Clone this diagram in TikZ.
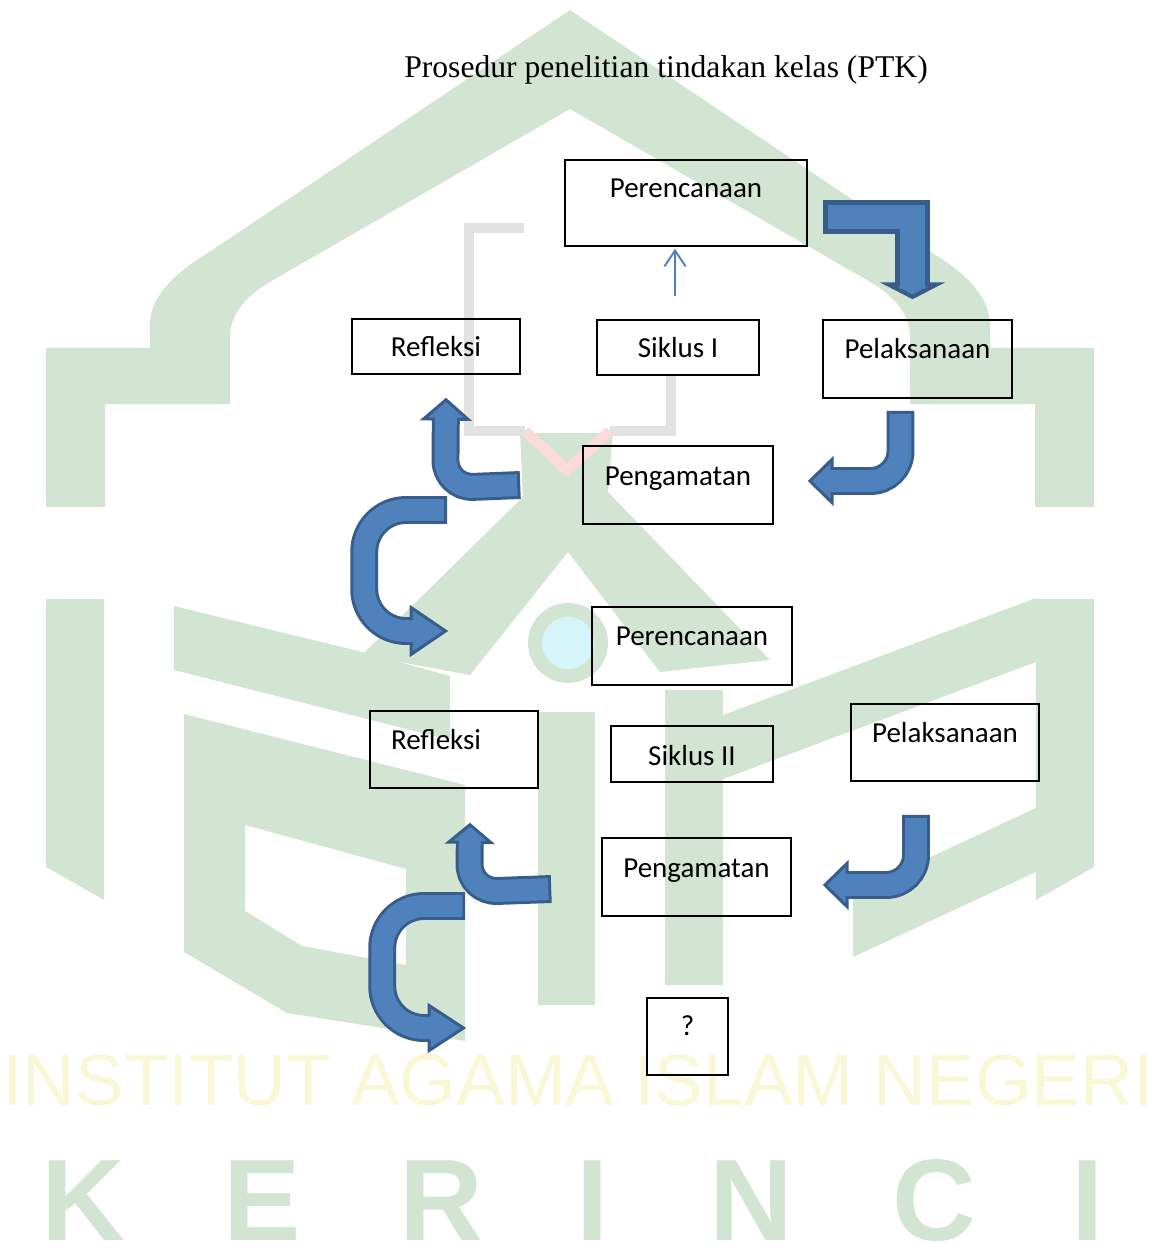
\documentclass[tikz,border=0pt]{standalone}
\usepackage{fontspec}
\setmainfont{Liberation Serif}
\newfontfamily\kalibri{Carlito}
\newfontfamily\arial{Liberation Sans}
\usepackage{tikz}
\usetikzlibrary{arrows.meta,positioning,calc}
\usepackage{xcolor}
\definecolor{isipanah}{HTML}{4F81BD}
\definecolor{garispanah}{HTML}{385D8A}
\definecolor{hijaulogo}{RGB}{210,229,210}
\definecolor{kuninglogo}{RGB}{248,248,214}
\definecolor{abulogo}{RGB}{226,226,226}
\definecolor{merahlogo}{RGB}{251,218,218}
\definecolor{birulogo}{RGB}{214,245,250}
\tikzset{
kotak/.style n args={3}{draw=black, line width=0.9pt, rectangle, inner sep=0pt, align=center,
  font={\kalibri\fontsize{16.5}{20}\selectfont}, minimum width=#1, text height=#2, text depth=#3},% kotak tahap
judul/.style = {anchor=base, font={\fontsize{18}{22}\selectfont}},% judul gambar
panah/.style n args={4}{draw=garispanah, line width=15.9pt, rounded corners=#3,
  -{Triangle[length=#1, width=#2, fill=isipanah, line width=1.7pt]},
  postaction={draw=isipanah, line width=12.5pt, -, shorten <=1.7pt, shorten >=#4}},% panah blok lengkung
panah_siku/.style = {draw=garispanah, line width=19.8pt, line join=miter,
  -{Triangle[length=9.6pt, width=36.9pt, fill=isipanah, line width=2.8pt]},
  postaction={draw=isipanah, line width=14.2pt, -, shorten <=2.8pt, shorten >=6pt}},% panah blok siku
panah_kecil/.style = {draw=isipanah, line width=1.1pt, -{Straight Barb[length=9pt, width=12pt, line width=1.1pt]}},% panah tipis
tulisan/.style = {anchor=base, inner sep=0pt, kuninglogo, font={\arial\fontsize{41.5}{44}\selectfont}},% tulisan latar
huruf/.style = {anchor=base, inner sep=0pt, hijaulogo, font={\arial\bfseries\fontsize{66}{70}\selectfont}}% huruf latar
}
\begin{document}
\begin{tikzpicture}[x=0.02cm, y=-0.02cm]
\useasboundingbox (0,0) rectangle (1158,1256);
% logo latar
\fill[hijaulogo] (46,507) -- (46,348) -- (150,348) -- (150,322) .. controls (152,295) and (175,272) .. (214,249)
  -- (570,10) -- (926,249) .. controls (965,272) and (988,295) .. (990,322) -- (990,348) -- (1094,348)
  -- (1094,507) -- (1035,507) -- (1035,404) -- (910,404) -- (910,337) .. controls (910,315) and (895,297) .. (872,283)
  -- (570,109) -- (268,283) .. controls (245,297) and (230,315) .. (230,337) -- (230,404) -- (105,404) -- (105,507) -- cycle;
\fill[hijaulogo] (46,599) -- (104,599) -- (104,900) -- (46,867) -- cycle;
\fill[hijaulogo] (1036,599) -- (1094,599) -- (1094,867) -- (1036,900) -- cycle;
\fill[hijaulogo] (362,655) -- (523,497) -- (520,433) -- (613,433) -- (608,492) -- (770,660) -- (660,672)
  -- (568,552) -- (470,675) -- cycle;
\fill[hijaulogo] (174,606) -- (370,654) -- (450,676) -- (450,740) -- (174,670) -- cycle;
\fill[hijaulogo] (723,715) -- (1036,598) -- (1036,662) -- (723,779) -- cycle;
\fill[hijaulogo] (538,712) rectangle (595,1005);
\fill[hijaulogo] (665,690) rectangle (723,985);
\fill[hijaulogo, even odd rule] (184,714) -- (465,785) -- (465,1041) -- (287,1013) -- (184,952) -- cycle
  (245,825) -- (406,869) -- (406,965) -- (302,946) -- (245,911) -- cycle;
\fill[hijaulogo] (853,893) -- (1036,808) -- (1036,872) -- (853,957) -- cycle;
\draw[abulogo, line width=6pt] (524,228) -- (469,228) -- (469,431) -- (525,431);
\draw[abulogo, line width=6pt] (610,431) -- (671,431) -- (671,376);
\draw[merahlogo, line width=6pt] (525,431) -- (567,470) -- (610,431);
\fill[hijaulogo] (568,643) circle (40);
\fill[birulogo] (568,643) circle (26);
\node[tulisan] (tulisan) at (578,1105) {INSTITUT AGAMA ISLAM NEGERI};
\foreach \huruf/\posx [count=\i] in {K/83,E/262,R/441,I/593,N/751,C/934,I/1088}
  \node[huruf] (huruf\i) at (\posx,1240) {\huruf};
% judul
\node[judul] (judul) at (666,78) {Prosedur penelitian tindakan kelas (PTK)};
% siklus I
\node[kotak={4.84cm}{0.76cm}{0.96cm}] (per1) at (686,203) {Perencanaan};
\node[kotak={3.24cm}{0.76cm}{0.34cm}] (sik1) at (678,347.5) {Siklus I};
\node[kotak={3.36cm}{0.76cm}{0.34cm}] (ref1) at (436,346.5) {Refleksi};
\node[kotak={3.78cm}{0.76cm}{0.80cm}] (pel1) at (917.5,359) {Pelaksanaan};
\node[kotak={3.80cm}{0.78cm}{0.78cm}] (peng1) at (678,485) {Pengamatan};
% siklus II
\node[kotak={4.00cm}{0.76cm}{0.80cm}] (per2) at (692,646) {Perencanaan};
\node[kotak={3.36cm}{0.76cm}{0.78cm}, text width=2.52cm, align=left, inner xsep=0.42cm] (ref2) at (454,749.5) {Refleksi};
\node[kotak={3.24cm}{0.78cm}{0.34cm}] (sik2) at (692,754) {Siklus II};
\node[kotak={3.76cm}{0.76cm}{0.78cm}] (pel2) at (945,742.5) {Pelaksanaan};
\node[kotak={3.78cm}{0.78cm}{0.78cm}] (peng2) at (696.5,877) {Pengamatan};
\node[kotak={1.62cm}{0.74cm}{0.80cm}] (tanya) at (687.5,1036.5) {?};
% panah
\draw[panah_kecil] ($(sik1.north)+(-3,-23)$) -- ($(per1.south)+(-11,2)$);
\draw[panah_siku] ($(per1.east)+(15,14)$) -| ($(pel1.north)+(-5,-20)$);
\draw[panah={14.7pt}{28.4pt}{17pt}{10.7pt}] ($(pel1.south)+(-17,12)$) |- ($(peng1.east)+(34,-4)$);
\draw[panah={13pt}{29.5pt}{16pt}{9pt}] ($(peng1.west)+(-62,0)$) -- ++(-75,3) -- ($(ref1.south)+(10,23)$);
\draw[panah={22pt}{29.5pt}{23.8pt}{18pt}] ($(peng1.west)+(-135,25)$) -- ++(-83,0) |- ($(per2.west)+(-143,-15)$);
\draw[panah={14.7pt}{28.4pt}{17pt}{10.7pt}] ($(pel2.south)+(-29,33)$) |- ($(peng2.east)+(31,8)$);
\draw[panah={12pt}{28.4pt}{16pt}{8pt}] ($(peng2.west)+(-50,12)$) -- ++(-82,3) -- ($(ref2.south)+(16,34)$);
\draw[panah={22pt}{28.4pt}{23.8pt}{18pt}] ($(peng2.west)+(-136,29)$) -- ++(-83,0) |- ($(tanya.west)+(-180,-8.5)$);
\end{tikzpicture}
\end{document}
